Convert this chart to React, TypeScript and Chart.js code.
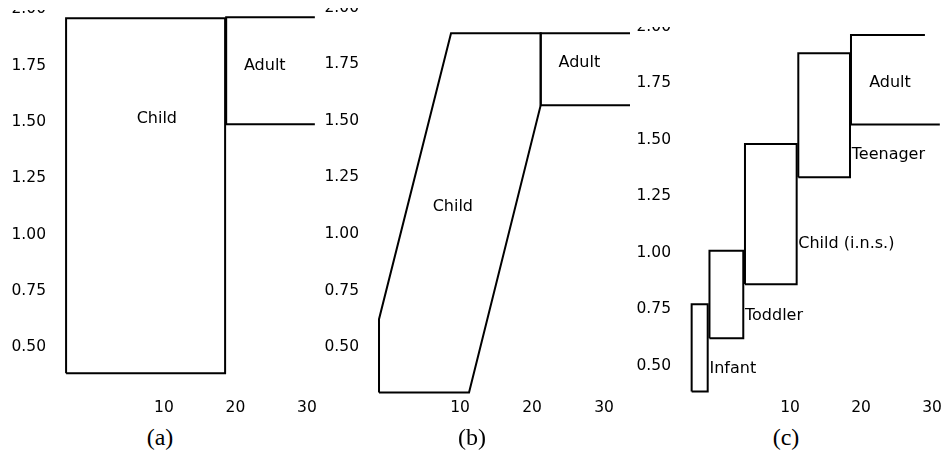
import React, { useEffect, useRef } from "react";
import { Chart, registerables } from "chart.js";

Chart.register(...registerables);

// Shared ticks
const X_TICKS = [10, 20, 30];
const Y_TICKS = [0.5, 0.75, 1.0, 1.25, 1.5, 1.75, 2.0];

// ---- Panel (a) ----
const A_CHILD_X = [-3.69, 18.55, 18.55, -3.69, -3.69];
const A_CHILD_Y = [0.385, 0.385, 1.96, 1.96, 0.385];
const A_ADULT_X = [31.1, 18.7, 18.7, 31.1];
const A_ADULT_Y = [1.965, 1.965, 1.49, 1.49];
const A_LABELS = ["Child", "Adult"];
const A_LABEL_X = [9.0, 24.1];
const A_LABEL_Y = [1.513, 1.75];

// ---- Panel (b) ----
const B_CHILD_X = [-1.25, -1.25, 8.75, 21.2, 21.2, 11.25, -1.25];
const B_CHILD_Y = [0.30, 0.624, 1.887, 1.887, 1.569, 0.30, 0.30];
const B_ADULT_X = [33.6, 21.2, 21.2, 33.6];
const B_ADULT_Y = [1.887, 1.887, 1.569, 1.569];
const B_LABELS = ["Child", "Adult"];
const B_LABEL_X = [9.0, 26.57];
const B_LABEL_Y = [1.12, 1.754];

// ---- Panel (c) ----
const C_INFANT_X = [-3.85, -1.59, -1.59, -3.85, -3.85];
const C_INFANT_Y = [0.385, 0.385, 0.772, 0.772, 0.385];
const C_TODDLER_X = [-1.34, 3.42, 3.42, -1.34, -1.34];
const C_TODDLER_Y = [0.621, 0.621, 1.009, 1.009, 0.621];
const C_CHILD_X = [3.66, 10.94, 10.94, 3.66, 3.66];
const C_CHILD_Y = [0.86, 0.86, 1.481, 1.481, 0.86];
const C_TEEN_X = [11.17, 18.45, 18.45, 11.17, 11.17];
const C_TEEN_Y = [1.334, 1.334, 1.883, 1.883, 1.334];
const C_ADULT_X = [29.0, 18.59, 18.59, 31.1];
const C_ADULT_Y = [1.964, 1.964, 1.567, 1.567];
const C_LABELS = ["Infant", "Toddler", "Child (i.n.s.)", "Teenager", "Adult"];
const C_LABEL_X = [-1.34, 3.66, 11.17, 18.7, 24.08];
const C_LABEL_Y = [0.485, 0.721, 1.037, 1.433, 1.75];
const C_LABEL_ALIGN = ["left", "left", "left", "left", "center"];

const CAPTIONS = ["(a)", "(b)", "(c)"];

type Shape = { x: number[]; y: number[] };
type PanelDef = {
  left: number;
  width: number;
  yAxisWidth: number;
  clipTop: number;
  xMin: number;
  xMax: number;
  yMin: number;
  yMax: number;
  shapes: Shape[];
  labels: string[];
  labelX: number[];
  labelY: number[];
  labelAlign: string[];
  caption: string;
  captionX: number;
};

const CANVAS_TOP = -20;
const CANVAS_H = 440;

const PANELS: PanelDef[] = [
  {
    left: 0, width: 325, yAxisWidth: 56, clipTop: 10,
    xMin: -5.1, xMax: 32.52, yMin: 0.288, yMax: 2.13,
    shapes: [{ x: A_CHILD_X, y: A_CHILD_Y }, { x: A_ADULT_X, y: A_ADULT_Y }],
    labels: A_LABELS, labelX: A_LABEL_X, labelY: A_LABEL_Y,
    labelAlign: ["center", "center"],
    caption: CAPTIONS[0], captionX: 160,
  },
  {
    left: 315, width: 315, yAxisWidth: 54, clipTop: 8,
    xMin: -2.64, xMax: 33.6, yMin: 0.289, yMax: 2.122,
    shapes: [{ x: B_CHILD_X, y: B_CHILD_Y }, { x: B_ADULT_X, y: B_ADULT_Y }],
    labels: B_LABELS, labelX: B_LABEL_X, labelY: B_LABEL_Y,
    labelAlign: ["center", "center"],
    caption: CAPTIONS[1], captionX: 472,
  },
  {
    left: 630, width: 316, yAxisWidth: 51, clipTop: 27,
    xMin: -5.35, xMax: 31.97, yMin: 0.37, yMax: 2.207,
    shapes: [
      { x: C_INFANT_X, y: C_INFANT_Y },
      { x: C_TODDLER_X, y: C_TODDLER_Y },
      { x: C_CHILD_X, y: C_CHILD_Y },
      { x: C_TEEN_X, y: C_TEEN_Y },
      { x: C_ADULT_X, y: C_ADULT_Y },
    ],
    labels: C_LABELS, labelX: C_LABEL_X, labelY: C_LABEL_Y,
    labelAlign: C_LABEL_ALIGN,
    caption: CAPTIONS[2], captionX: 786,
  },
];

const SANS = "'DejaVu Sans', sans-serif";

function Panel({ p }: { p: PanelDef }) {
  const ref = useRef<HTMLCanvasElement | null>(null);

  useEffect(() => {
    if (!ref.current) return;
    const labelPlugin = {
      id: "shapeLabels",
      afterDatasetsDraw(chart: any) {
        const { ctx, scales } = chart;
        ctx.save();
        ctx.font = `16px ${SANS}`;
        ctx.fillStyle = "#000";
        ctx.textBaseline = "middle";
        p.labels.forEach((t, i) => {
          ctx.textAlign = p.labelAlign[i] as CanvasTextAlign;
          ctx.fillText(t, scales.x.getPixelForValue(p.labelX[i]), scales.y.getPixelForValue(p.labelY[i]));
        });
        ctx.restore();
      },
    };

    const chart = new Chart(ref.current, {
      type: "scatter",
      data: {
        datasets: p.shapes.map((s) => ({
          data: s.x.map((x, i) => ({ x, y: s.y[i] })),
          showLine: true,
          borderColor: "#000",
          backgroundColor: "#000",
          borderWidth: 2,
          pointRadius: 0,
          pointHoverRadius: 0,
          fill: false,
          tension: 0,
          clip: false,
        })),
      },
      options: {
        responsive: false,
        animation: false,
        devicePixelRatio: 1,
        layout: { padding: 0 },
        events: [],
        plugins: { legend: { display: false }, tooltip: { enabled: false } },
        scales: {
          x: {
            type: "linear",
            min: p.xMin,
            max: p.xMax,
            grid: { display: false, drawTicks: false },
            border: { display: false },
            afterBuildTicks: (s: any) => {
              s.ticks = X_TICKS.map((v) => ({ value: v }));
            },
            afterFit: (s: any) => {
              s.height = 25;
              s.paddingLeft = 0;
              s.paddingRight = 0;
            },
            ticks: {
              autoSkip: false,
              maxRotation: 0,
              color: "#000",
              padding: 4,
              font: { family: SANS, size: 15.5 },
              callback: (v: any) => String(v),
            },
          },
          y: {
            type: "linear",
            min: p.yMin,
            max: p.yMax,
            grid: { display: false, drawTicks: false },
            border: { display: false },
            afterBuildTicks: (s: any) => {
              s.ticks = Y_TICKS.map((v) => ({ value: v }));
            },
            afterFit: (s: any) => {
              s.width = p.yAxisWidth;
              s.paddingTop = 0;
              s.paddingBottom = 0;
            },
            ticks: {
              autoSkip: false,
              color: "#000",
              padding: 10,
              font: { family: SANS, size: 15.5 },
              callback: (v: any) => Number(v).toFixed(2),
            },
          },
        },
      },
      plugins: [labelPlugin],
    } as any);
    return () => chart.destroy();
  }, [p]);

  return (
    <>
      <div
        style={{
          position: "absolute",
          left: p.left,
          top: p.clipTop,
          width: p.width,
          height: CANVAS_TOP + CANVAS_H - p.clipTop,
          overflow: "hidden",
        }}
      >
        <canvas
          ref={ref}
          width={p.width}
          height={CANVAS_H}
          style={{ position: "absolute", left: 0, top: CANVAS_TOP - p.clipTop, width: p.width, height: CANVAS_H }}
        />
      </div>
      <div
        style={{
          position: "absolute",
          left: p.captionX,
          top: 423,
          transform: "translateX(-50%)",
          fontFamily: "'Liberation Serif', serif",
          fontSize: 24,
          lineHeight: "28px",
          color: "#000",
          whiteSpace: "nowrap",
        }}
      >
        {p.caption}
      </div>
    </>
  );
}

export default function App() {
  return (
    <div style={{ position: "absolute", left: 0, top: 0, width: 946, height: 456, background: "#fff", overflow: "hidden" }}>
      {PANELS.map((p, i) => (
        <Panel key={i} p={p} />
      ))}
    </div>
  );
}
